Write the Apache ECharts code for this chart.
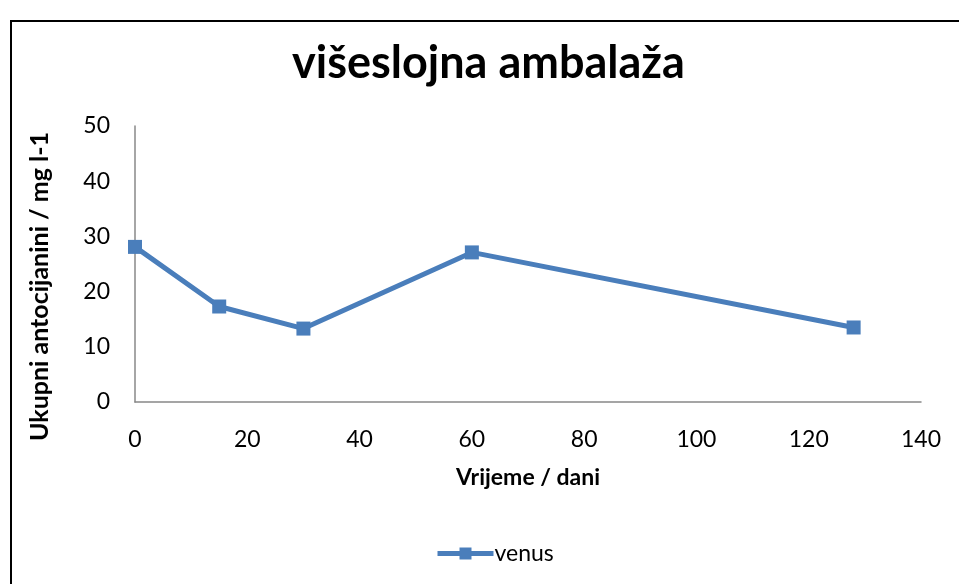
<!DOCTYPE html>
<html><head><meta charset="utf-8">
<script src="https://cdn.jsdelivr.net/npm/echarts@6/dist/echarts.min.js"></script>
<style>html,body{margin:0;padding:0;background:#fff}#c{width:959px;height:584px}</style>
</head><body><div id="c"></div>
<script>
const days = [0, 15, 30, 60, 128];
const venus = [28.1, 17.3, 13.3, 27.1, 13.5];
const seriesName = 'venus';
const titleText = 'višeslojna ambalaža';
const xName = 'Vrijeme / dani';
const yName = 'Ukupni antocijanini / mg l-1';

const chart = echarts.init(document.getElementById('c'));
const font = 'Lato, "Open Sans", sans-serif';
chart.setOption({
  animation: false,
  textStyle: {fontFamily: font},
  graphic: [{type: 'rect', shape: {x: 11, y: 21, width: 1200, height: 1000}, style: {fill: 'none', stroke: '#000', lineWidth: 2}}],
  title: {text: titleText, left: 287, top: 36, textStyle: {fontFamily: font, fontSize: 45, fontWeight: 'bold', color: '#000'}},
  legend: {top: 537, left: 430, itemWidth: 56, itemHeight: 15, itemGap: 4,
    lineStyle: {width: 5},
    textStyle: {fontFamily: font, fontSize: 23, color: '#000', padding: [0, 0, 0, -4]}, data: [seriesName]},
  grid: {left: 135, right: 38, top: 126, bottom: 182, containLabel: false},
  xAxis: {type: 'value', min: 0, max: 140, interval: 20, name: xName, nameLocation: 'middle', nameGap: 64,
    nameTextStyle: {fontFamily: font, fontSize: 23, fontWeight: 'bold', color: '#000'},
    axisLine: {show: true, lineStyle: {color: '#888', width: 1.5}}, axisTick: {show: false}, splitLine: {show: false},
    axisLabel: {fontSize: 23, color: '#000', margin: 26}},
  yAxis: {type: 'value', min: 0, max: 50, interval: 10, name: yName, nameLocation: 'middle', nameGap: 83,
    nameTextStyle: {fontFamily: font, fontSize: 25, fontWeight: 'bold', color: '#000', padding: [0, 45, 0, 0]},
    axisLine: {show: true, lineStyle: {color: '#888', width: 1.5}}, axisTick: {show: false}, splitLine: {show: false},
    axisLabel: {fontSize: 23, color: '#000', margin: 25}},
  series: [{name: seriesName, type: 'line', data: days.map((d, i) => [d, venus[i]]),
    symbol: 'rect', symbolSize: 14, lineStyle: {color: '#4a7ebb', width: 5}, itemStyle: {color: '#4a7ebb'}}]
});
</script></body></html>
